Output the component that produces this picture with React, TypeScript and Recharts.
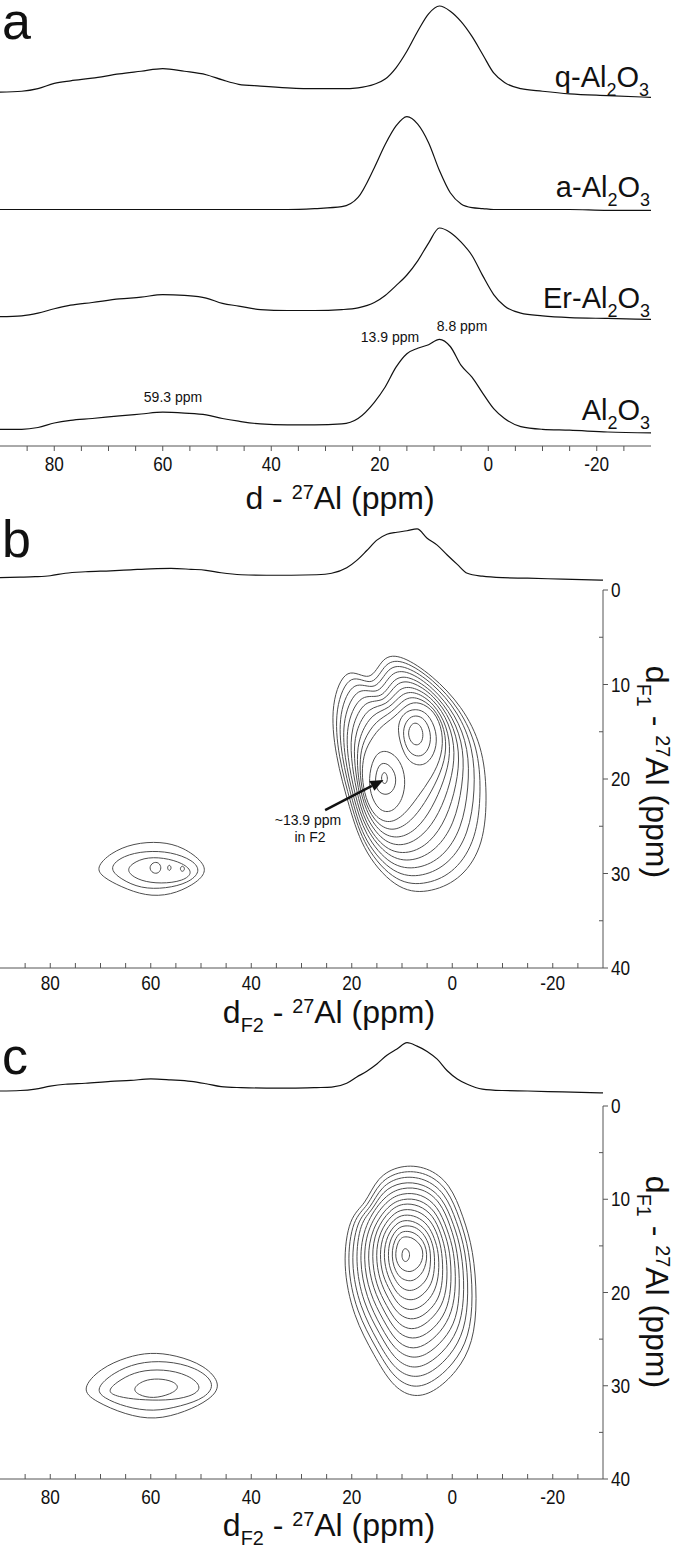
import React from 'react';
import { LineChart, Line, XAxis, YAxis, ReferenceLine } from 'recharts';

// shared chemical-shift grid for the 1D traces (ppm)
const ppm = [90, 86, 83, 80, 77, 73, 68, 64, 60, 56, 52, 49, 46, 42, 37, 32, 27, 24, 21, 19, 17, 15, 13, 11, 9, 7, 5, 3, 1, -1, -3, -6, -10, -15, -22, -30];

// panel a, relative intensity (peak = 100)
const qAl2O3 = [1, 2, 5, 11, 14, 17, 22, 25, 28, 25, 21, 15, 10, 8, 6, 5, 5, 6, 10, 16, 29, 48, 71, 91, 100, 94, 82, 65, 44, 23, 12, 5, 2, -1, -3, -5];
const aAl2O3 = [0, 0, 0, 0, 0, 0, 0, 0, 0, 0, 0, 0, 0, 0, 0, 1, 3, 13, 45, 70, 90, 100, 92, 72, 42, 18, 6, 2, 1, 0, 0, 0, 0, 0, -1, -1];
const erAl2O3 = [0, 1, 4, 9, 13, 16, 20, 22, 25, 24, 21, 15, 12, 8, 7, 7, 8, 10, 16, 24, 35, 47, 63, 83, 100, 95, 84, 69, 46, 25, 12, 4, 1, -1, -2, -3];
const al2O3 = [0, 0, 2, 7, 10, 12, 15, 17, 19, 18, 16, 12, 9, 6, 5, 5, 6, 12, 30, 47, 69, 84, 90, 94, 100, 92, 71, 58, 40, 23, 12, 3, 0, -1, -3, -4];

// F2 projections above panels b and c
const projB = [0, 1, 2, 4, 9, 12, 14, 16, 18, 19, 17, 15, 10, 6, 5, 5, 6, 9, 20, 35, 55, 76, 88, 92, 95, 99, 80, 66, 46, 27, 9, 3, 0, -1, -3, -5];
const projC = [0, 1, 4, 10, 14, 16, 20, 22, 25, 23, 20, 15, 9, 7, 6, 6, 7, 8, 16, 29, 41, 56, 74, 87, 100, 93, 82, 66, 42, 25, 14, 4, 1, 0, -2, -4];

const xTicksMajor = [80, 60, 40, 20, 0, -20];
const xTicksMinor = [85, 75, 70, 65, 55, 50, 45, 35, 30, 25, 15, 10, 5, -5, -10, -15, -25];
const yTicksMajor = [0, 10, 20, 30, 40];
const yTicksMinor = [5, 15, 25, 35];

// contour rings, [F2, F1] in ppm — panel b
const contoursB: number[][][] = [
  [[24.3, 12.0], [21.0, 7.8], [16.2, 10.0], [13.9, 6.9], [10.0, 6.9], [4.0, 9.0], [-2.0, 12.3], [-6.0, 16.5], [-7.0, 21.5], [-6.3, 27.0], [-2.0, 30.5], [4.0, 32.0], [10.5, 32.0], [17.5, 28.0], [20.5, 23.0], [23.3, 17.5]],
  [[23.5, 12.5], [20.3, 8.5], [15.7, 10.5], [13.4, 7.5], [9.6, 7.4], [3.9, 9.4], [-1.6, 12.6], [-5.1, 16.6], [-5.8, 21.3], [-4.8, 26.4], [-0.7, 29.8], [4.9, 31.2], [11.1, 31.1], [17.5, 27.3], [20.2, 22.6], [22.7, 17.6]],
  [[22.7, 13.0], [19.6, 9.3], [15.2, 10.9], [12.8, 8.0], [9.2, 8.0], [3.9, 9.8], [-1.2, 12.9], [-4.2, 16.7], [-4.6, 21.1], [-3.3, 25.9], [0.6, 29.0], [5.9, 30.4], [11.6, 30.2], [17.5, 26.7], [19.9, 22.3], [22.1, 17.6]],
  [[21.9, 13.5], [18.8, 10.0], [14.6, 11.3], [12.3, 8.6], [8.8, 8.5], [3.8, 10.3], [-0.7, 13.2], [-3.3, 16.8], [-3.3, 20.9], [-1.9, 25.3], [1.8, 28.3], [6.8, 29.6], [12.2, 29.3], [17.4, 26.0], [19.7, 21.9], [21.5, 17.7]],
  [[21.1, 14.0], [18.1, 10.8], [14.0, 11.7], [11.7, 9.2], [8.4, 9.1], [3.8, 10.7], [-0.3, 13.5], [-2.4, 16.9], [-2.1, 20.7], [-0.4, 24.8], [3.1, 27.5], [7.8, 28.8], [12.7, 28.4], [17.4, 25.3], [19.4, 21.6], [20.9, 17.7]],
  [[20.2, 14.5], [17.4, 11.5], [13.5, 12.0], [11.2, 9.7], [8.1, 9.6], [3.7, 11.1], [0.1, 13.8], [-1.6, 17.1], [-0.9, 20.6], [1.1, 24.2], [4.4, 26.8], [8.7, 28.0], [13.3, 27.6], [17.4, 24.7], [19.1, 21.2], [20.2, 17.8]],
  [[19.4, 15.0], [16.7, 12.3], [13.0, 12.3], [10.6, 10.3], [7.7, 10.2], [3.7, 11.5], [0.5, 14.1], [-0.7, 17.2], [0.3, 20.4], [2.6, 23.7], [5.7, 26.0], [9.7, 27.2], [13.8, 26.7], [17.4, 24.0], [18.8, 20.9], [19.6, 17.8]],
  [[18.6, 15.5], [15.9, 13.0], [12.5, 12.6], [10.1, 10.9], [7.3, 10.7], [3.6, 12.0], [1.0, 14.4], [0.2, 17.3], [1.6, 20.2], [4.0, 23.1], [6.9, 25.3], [10.6, 26.4], [14.4, 25.8], [17.3, 23.3], [18.6, 20.5], [19.0, 17.9]],
  [[17.8, 16.0], [15.2, 13.8], [12.0, 13.0], [9.5, 11.4], [6.9, 11.3], [3.6, 12.4], [1.4, 14.7], [1.1, 17.4], [2.8, 20.0], [5.5, 22.6], [8.2, 24.5], [11.6, 25.6], [14.9, 24.9], [17.3, 22.7], [18.3, 20.2], [18.4, 17.9]],
  [[17.0, 16.5], [14.5, 14.5], [11.5, 13.5], [9.0, 12.0], [6.5, 11.8], [3.5, 12.8], [1.8, 15.0], [2.0, 17.5], [4.0, 19.8], [7.0, 22.0], [9.5, 23.8], [12.5, 24.8], [15.5, 24.0], [17.3, 22.0], [18.0, 19.8], [17.8, 18.0]],
  [[11.2, 14.6], [9.8, 13.0], [7.4, 12.5], [4.8, 13.0], [3.0, 15.0], [3.2, 17.0], [5.0, 18.5], [7.5, 18.6], [9.6, 17.6]],
  [[10.0, 14.9], [8.9, 13.6], [7.3, 13.2], [5.4, 13.6], [4.2, 15.1], [4.4, 16.6], [5.8, 17.6], [7.6, 17.6], [9.2, 16.8]],
  [[8.9, 15.1], [8.2, 14.2], [7.2, 14.0], [6.2, 14.4], [5.7, 15.3], [6.1, 16.2], [7.2, 16.5], [8.3, 16.1]],
  [[16.6, 19.4], [15.3, 17.2], [12.8, 16.9], [10.3, 18.0], [9.2, 20.0], [9.8, 22.2], [12.0, 23.6], [14.6, 23.4], [16.4, 21.6]],
  [[15.3, 19.6], [14.5, 18.3], [12.8, 18.3], [11.2, 19.4], [11.2, 20.8], [12.5, 21.7], [14.3, 21.6], [15.3, 20.8]],
  [[14.2, 19.9], [13.8, 19.3], [13.2, 19.3], [12.8, 19.9], [13.1, 20.5], [13.8, 20.5]],
  [[71.0, 29.4], [68.0, 27.8], [63.5, 26.8], [58.0, 26.6], [53.5, 27.2], [49.5, 28.8], [49.0, 30.0], [51.5, 31.2], [56.0, 32.3], [61.0, 32.4], [66.0, 31.4], [69.5, 30.4]],
  [[68.5, 29.4], [65.5, 28.1], [61.0, 27.6], [56.0, 27.7], [51.5, 28.6], [50.0, 29.8], [52.5, 31.0], [57.0, 31.6], [62.0, 31.6], [66.0, 30.6]],
  [[64.5, 29.2], [61.5, 28.3], [57.5, 28.3], [53.5, 28.9], [51.5, 29.9], [53.5, 30.8], [58.0, 31.1], [62.0, 30.8], [64.5, 30.0]],
  [[60.4, 29.4], [59.6, 28.8], [58.4, 28.8], [57.8, 29.4], [58.4, 30.0], [59.6, 30.0]],
  [[56.8, 29.4], [56.3, 29.0], [55.8, 29.4], [56.3, 29.8]],
  [[54.3, 29.5], [53.7, 29.1], [53.1, 29.5], [53.7, 29.9]],
];

// contour rings, [F2, F1] in ppm — panel c
const contoursC: number[][][] = [
  [[10.3, 6.3], [5.0, 6.5], [0.4, 8.3], [-2.2, 11.9], [-4.2, 15.4], [-5.0, 20.8], [-4.2, 25.4], [-1.0, 28.5], [3.8, 30.8], [8.0, 31.3], [12.0, 30.0], [15.5, 26.8], [19.7, 22.6], [21.9, 17.0], [20.5, 11.8], [17.3, 10.6], [15.0, 7.6]],
  [[10.2, 6.9], [5.2, 7.1], [0.9, 8.8], [-1.6, 12.2], [-3.4, 15.4], [-4.2, 20.5], [-3.4, 24.8], [-0.3, 27.7], [4.2, 29.8], [8.1, 30.3], [11.9, 29.0], [15.1, 26.0], [19.1, 22.1], [21.1, 16.9], [19.8, 12.0], [16.8, 10.8], [14.6, 8.1]],
  [[10.2, 7.5], [5.5, 7.7], [1.4, 9.3], [-0.9, 12.4], [-2.7, 15.5], [-3.3, 20.2], [-2.5, 24.1], [0.3, 26.8], [4.5, 28.8], [8.2, 29.2], [11.7, 28.1], [14.8, 25.3], [18.4, 21.6], [20.3, 16.8], [19.0, 12.2], [16.3, 11.0], [14.2, 8.6]],
  [[10.1, 8.1], [5.7, 8.3], [1.9, 9.8], [-0.3, 12.7], [-1.9, 15.5], [-2.5, 19.8], [-1.7, 23.5], [1.0, 26.0], [4.9, 27.8], [8.3, 28.2], [11.6, 27.1], [14.4, 24.5], [17.8, 21.1], [19.4, 16.6], [18.3, 12.4], [15.9, 11.2], [13.9, 9.1]],
  [[10.0, 8.7], [5.9, 8.8], [2.4, 10.2], [0.3, 12.9], [-1.1, 15.6], [-1.6, 19.5], [-0.9, 22.9], [1.6, 25.1], [5.2, 26.8], [8.4, 27.1], [11.5, 26.1], [14.1, 23.8], [17.1, 20.6], [18.6, 16.5], [17.5, 12.7], [13.5, 9.6]],
  [[9.9, 9.3], [6.2, 9.4], [2.9, 10.7], [1.0, 13.2], [-0.4, 15.6], [-0.8, 19.2], [0.0, 22.2], [2.3, 24.3], [5.6, 25.8], [8.5, 26.1], [11.3, 25.2], [13.7, 23.0], [16.5, 20.1], [17.8, 16.4], [16.8, 12.9], [13.1, 10.1]],
  [[9.8, 9.9], [6.4, 10.0], [3.4, 11.2], [1.6, 13.4], [0.4, 15.6], [0.1, 18.9], [0.8, 21.6], [2.9, 23.5], [5.9, 24.8], [8.6, 25.0], [11.2, 24.2], [13.4, 22.2], [15.8, 19.6], [17.0, 16.3], [16.0, 13.1], [12.7, 10.6]],
  [[9.8, 10.4], [6.6, 10.6], [3.8, 11.7], [2.2, 13.7], [1.2, 15.7], [0.9, 18.5], [1.6, 21.0], [3.6, 22.6], [6.3, 23.8], [8.8, 24.0], [11.1, 23.2], [13.0, 21.5], [15.2, 19.2], [16.1, 16.1], [15.3, 13.3], [12.4, 11.1]],
  [[9.7, 11.0], [6.8, 11.2], [4.3, 12.2], [2.8, 13.9], [2.0, 15.7], [1.8, 18.2], [2.4, 20.4], [4.2, 21.8], [6.6, 22.8], [8.9, 22.9], [11.0, 22.2], [12.7, 20.7], [14.5, 18.7], [15.3, 16.0], [14.5, 13.5], [12.0, 11.6]],
  [[9.6, 11.6], [7.1, 11.8], [4.8, 12.7], [3.5, 14.2], [2.7, 15.7], [2.6, 17.9], [3.3, 19.7], [4.9, 21.0], [7.0, 21.8], [9.0, 21.9], [10.8, 21.3], [12.3, 19.9], [13.9, 18.2], [14.5, 15.9], [13.8, 13.7], [11.6, 12.1]],
  [[9.5, 12.2], [7.3, 12.4], [5.3, 13.2], [4.1, 14.4], [3.5, 15.8], [3.5, 17.6], [4.1, 19.1], [5.5, 20.1], [7.3, 20.8], [9.1, 20.8], [10.7, 20.3], [12.0, 19.2], [13.2, 17.7], [13.7, 15.8], [13.0, 13.9], [11.2, 12.6]],
  [[9.5, 12.8], [7.5, 12.9], [5.8, 13.6], [4.7, 14.7], [4.3, 15.8], [4.3, 17.2], [4.9, 18.5], [6.2, 19.3], [7.7, 19.8], [9.2, 19.8], [10.6, 19.3], [11.6, 18.4], [12.6, 17.2], [12.8, 15.6], [12.3, 14.2], [10.9, 13.1]],
  [[9.4, 13.4], [7.8, 13.5], [6.3, 14.1], [5.4, 14.9], [5.0, 15.9], [5.2, 16.9], [5.8, 17.8], [6.8, 18.4], [8.0, 18.8], [9.3, 18.7], [10.4, 18.4], [11.3, 17.7], [11.9, 16.7], [12.0, 15.5], [11.5, 14.4], [10.5, 13.6]],
  [[9.3, 14.0], [8.0, 14.1], [6.8, 14.6], [6.0, 15.2], [5.8, 15.9], [6.0, 16.6], [6.6, 17.2], [7.5, 17.6], [8.4, 17.8], [9.4, 17.7], [10.3, 17.4], [10.9, 16.9], [11.3, 16.2], [11.2, 15.4], [10.8, 14.6], [10.1, 14.1]],
  [[9.4, 15.2], [8.6, 15.5], [8.4, 16.1], [8.9, 16.7], [9.7, 16.7], [10.1, 16.1], [9.9, 15.5]],
  [[74.0, 30.4], [70.0, 28.1], [64.7, 26.9], [60.1, 26.4], [55.1, 26.7], [49.2, 27.8], [45.8, 29.9], [48.2, 31.5], [53.1, 32.8], [59.1, 33.7], [65.1, 33.1], [71.0, 31.7]],
  [[71.0, 30.3], [67.5, 28.6], [62.7, 27.5], [57.0, 27.3], [51.0, 28.0], [47.0, 29.7], [49.0, 31.3], [54.0, 32.2], [59.5, 32.8], [65.0, 32.3], [69.5, 31.3]],
  [[69.0, 30.6], [66.0, 29.3], [62.5, 28.4], [57.5, 28.2], [52.5, 28.8], [49.5, 30.2], [52.0, 31.2], [57.0, 31.6], [62.5, 31.5], [66.5, 31.2]],
  [[63.7, 30.3], [61.5, 29.4], [58.5, 29.2], [55.5, 29.5], [54.2, 30.2], [56.0, 30.9], [59.5, 31.4], [62.5, 31.0]],
];

// arrow in panel b: tail -> head, [F2, F1]
const arrowB = [[25.3, 23.3], [13.7, 20.1]];

const W = 675;
const SANS = '"Liberation Sans", Arial, sans-serif';
const INK = '#111';
const AXIS = '#555';
const RING = '#4d4d4d';

// y-domain that puts 0 at y0 and 100 at y100 inside a plot spanning top..bottom
const band = (y0: number, y100: number, top: number, bottom: number): [number, number] => {
  const s = (y0 - y100) / 100;
  return [-(bottom - y0) / s, (y0 - top) / s];
};

const xTicksAll = [...xTicksMajor, ...xTicksMinor].sort((a, b) => b - a);
const yTicksAll = [...yTicksMajor, ...yTicksMinor].sort((a, b) => a - b);

// narrow-looking tick text (condensed horizontally)
const TickText = ({ x, y, anchor, children }: { x: number; y: number; anchor: 'start' | 'middle'; children: React.ReactNode }) => (
  <text transform={`translate(${x} ${y}) scale(0.86 1)`} textAnchor={anchor} fontSize={20} fontFamily={SANS} fill={INK}>
    {children}
  </text>
);

const makeXTick = (up: boolean, labelDy: number) => (props: any) => {
  const { x, y, payload } = props;
  const v = payload.value;
  const major = xTicksMajor.includes(v);
  return (
    <g>
      <line x1={x} x2={x} y1={y} y2={up ? y - 5 : y + 5} stroke={AXIS} />
      {major && (
        <TickText x={x} y={y + labelDy} anchor="middle">
          {v}
        </TickText>
      )}
    </g>
  );
};

const YTick = (props: any) => {
  const { x, y, payload } = props;
  const v = payload.value;
  const major = yTicksMajor.includes(v);
  return (
    <g>
      <line x1={x} x2={major ? x + 5 : x - 4} y1={y} y2={y} stroke={AXIS} />
      {major && (
        <TickText x={x + 8} y={y + 7} anchor="start">
          {v}
        </TickText>
      )}
    </g>
  );
};

const Arrow = (p: any) => {
  const { x1, y1, x2, y2 } = p;
  const ang = Math.atan2(y2 - y1, x2 - x1);
  const L = 13;
  const hw = 5.5;
  const bx = x2 - L * Math.cos(ang);
  const by = y2 - L * Math.sin(ang);
  const px = -Math.sin(ang) * hw;
  const py = Math.cos(ang) * hw;
  return (
    <g>
      <line x1={x1} y1={y1} x2={bx} y2={by} stroke={INK} strokeWidth={2.4} />
      <polygon points={`${x2},${y2} ${bx + px},${by + py} ${bx - px},${by - py}`} fill={INK} />
    </g>
  );
};

const Sub = ({ children }: { children: React.ReactNode }) => (
  <span style={{ fontSize: '0.62em', position: 'relative', top: '0.45em' }}>{children}</span>
);
const Sup = ({ children }: { children: React.ReactNode }) => (
  <span style={{ fontSize: '0.62em', position: 'relative', top: '-0.5em' }}>{children}</span>
);

type TxtProps = { x: number; y: number; size: number; align?: 'left' | 'center' | 'right'; lh?: number; children: React.ReactNode };
// y is the text baseline
const Txt = ({ x, y, size, align = 'left', lh = 1, children }: TxtProps) => {
  const style: React.CSSProperties = {
    position: 'absolute',
    top: y - ((lh - 1.117) / 2 + 0.905) * size,
    fontSize: size,
    lineHeight: lh,
    fontFamily: SANS,
    whiteSpace: 'nowrap',
    color: INK,
  };
  if (align === 'right') style.right = W - x;
  else if (align === 'center') {
    style.left = x;
    style.transform = 'translateX(-50%)';
  } else style.left = x;
  return <div style={style}>{children}</div>;
};

const YTitle = ({ cx, cy }: { cx: number; cy: number }) => (
  <div
    style={{
      position: 'absolute',
      left: cx,
      top: cy,
      transform: 'translate(-50%, -50%) rotate(90deg)',
      fontSize: 32,
      lineHeight: 0.9,
      fontFamily: SANS,
      whiteSpace: 'nowrap',
      color: INK,
    }}
  >
    d<Sub>F1</Sub> - <Sup>27</Sup>Al (ppm)
  </div>
);

const rowsA = ppm.map((p, i) => ({ ppm: p, q: qAl2O3[i], a: aAl2O3[i], er: erAl2O3[i], al: al2O3[i] }));

const PanelA = () => {
  const h = 486;
  const plotBottom = 446;
  const series = [
    { key: 'q', y0: 93, y100: 6 },
    { key: 'a', y0: 209.5, y100: 116.7 },
    { key: 'er', y0: 316.7, y100: 228 },
    { key: 'al', y0: 429.3, y100: 339.3 },
  ];
  return (
    <div style={{ position: 'absolute', left: 0, top: 0 }}>
      <LineChart width={W} height={h} data={rowsA} margin={{ top: 0, right: 24, bottom: 0, left: 0 }}>
        <XAxis
          dataKey="ppm"
          type="number"
          domain={[-30, 90]}
          reversed
          allowDataOverflow
          ticks={xTicksAll}
          interval={0}
          tickSize={0}
          tickMargin={0}
          tickLine={false}
          tick={makeXTick(false, 25)}
          height={h - plotBottom}
          axisLine={{ stroke: AXIS }}
        />
        {series.map((s) => (
          <YAxis key={s.key} yAxisId={s.key} type="number" hide allowDataOverflow domain={band(s.y0, s.y100, 0, plotBottom)} />
        ))}
        {series.map((s) => (
          <Line
            key={s.key}
            yAxisId={s.key}
            dataKey={s.key}
            type="monotone"
            stroke={INK}
            strokeWidth={1.2}
            dot={false}
            activeDot={false}
            isAnimationActive={false}
          />
        ))}
      </LineChart>
    </div>
  );
};

const Projection = ({ top, values, baseY, peakY }: { top: number; values: number[]; baseY: number; peakY: number }) => {
  const h = 85;
  const rows = ppm.map((p, i) => ({ ppm: p, v: values[i] }));
  return (
    <div style={{ position: 'absolute', left: 0, top }}>
      <LineChart width={W} height={h} data={rows} margin={{ top: 0, right: 72, bottom: 0, left: 0 }}>
        <XAxis dataKey="ppm" type="number" domain={[-30, 90]} reversed allowDataOverflow hide />
        <YAxis type="number" hide allowDataOverflow domain={band(baseY - top, peakY - top, 0, h)} />
        <Line dataKey="v" type="monotone" stroke={INK} strokeWidth={1.2} dot={false} activeDot={false} isAnimationActive={false} />
      </LineChart>
    </div>
  );
};

const ContourPanel = ({ top, plotH, rings, labelDy, arrow }: { top: number; plotH: number; rings: number[][][]; labelDy: number; arrow?: number[][] }) => {
  const axisH = 42;
  const h = 10 + plotH + axisH;
  return (
    <div style={{ position: 'absolute', left: 0, top }}>
      <LineChart width={W} height={h} margin={{ top: 10, right: 0, bottom: 0, left: 0 }}>
        <XAxis
          dataKey="f2"
          type="number"
          domain={[-30, 90]}
          reversed
          allowDataOverflow
          ticks={xTicksAll}
          interval={0}
          tickSize={0}
          tickMargin={0}
          tickLine={false}
          tick={makeXTick(true, labelDy)}
          height={axisH}
          axisLine={{ stroke: AXIS }}
        />
        <YAxis
          orientation="right"
          type="number"
          domain={[0, 40]}
          reversed
          allowDataOverflow
          ticks={yTicksAll}
          interval={0}
          tickSize={0}
          tickMargin={0}
          tickLine={false}
          tick={YTick}
          width={72}
          axisLine={{ stroke: AXIS }}
        />
        {rings.map((r, i) => (
          <Line
            key={i}
            data={r.map(([f2, f1]) => ({ f2, f1 }))}
            dataKey="f1"
            type="basisClosed"
            stroke={RING}
            strokeWidth={1}
            dot={false}
            activeDot={false}
            isAnimationActive={false}
          />
        ))}
        {arrow && (
          <ReferenceLine
            segment={[
              { x: arrow[0][0], y: arrow[0][1] },
              { x: arrow[1][0], y: arrow[1][1] },
            ]}
            ifOverflow="visible"
            shape={Arrow}
          />
        )}
      </LineChart>
    </div>
  );
};

export default function App() {
  return (
    <div
      style={{
        position: 'absolute',
        left: 0,
        top: 0,
        width: W,
        height: 1549,
        background: '#fff',
        overflow: 'hidden',
        fontFamily: SANS,
      }}
    >
      <PanelA />
      <Projection top={505} values={projB} baseY={577.7} peakY={528.3} />
      <ContourPanel top={580} plotH={378} rings={contoursB} labelDy={22} arrow={arrowB} />
      <Projection top={1020} values={projC} baseY={1091} peakY={1042.7} />
      <ContourPanel top={1096} plotH={373} rings={contoursC} labelDy={25} />

      <Txt x={2} y={39} size={52} lh={0.7}>a</Txt>
      <Txt x={2} y={558} size={52} lh={0.75}>b</Txt>
      <Txt x={2} y={1075} size={52} lh={0.75}>c</Txt>

      <Txt x={649} y={88} size={29} align="right">q-Al<Sub>2</Sub>O<Sub>3</Sub></Txt>
      <Txt x={650} y={198} size={29} align="right">a-Al<Sub>2</Sub>O<Sub>3</Sub></Txt>
      <Txt x={650} y={309} size={29} align="right">Er-Al<Sub>2</Sub>O<Sub>3</Sub></Txt>
      <Txt x={650} y={421} size={29} align="right">Al<Sub>2</Sub>O<Sub>3</Sub></Txt>

      <Txt x={462} y={331} size={14} align="center">8.8 ppm</Txt>
      <Txt x={390} y={342} size={14} align="center">13.9 ppm</Txt>
      <Txt x={173} y={402} size={14} align="center">59.3 ppm</Txt>

      <Txt x={340} y={509} size={32} align="center" lh={0.9}>d - <Sup>27</Sup>Al (ppm)</Txt>

      <Txt x={308} y={825} size={14} align="center">~13.9 ppm</Txt>
      <Txt x={310} y={842} size={14} align="center">in F2</Txt>

      <Txt x={329} y={1024} size={32} align="center" lh={0.85}>d<Sub>F2</Sub> - <Sup>27</Sup>Al (ppm)</Txt>
      <Txt x={329} y={1537} size={32} align="center" lh={0.85}>d<Sub>F2</Sub> - <Sup>27</Sup>Al (ppm)</Txt>

      <YTitle cx={657} cy={772} />
      <YTitle cx={657} cy={1282} />
    </div>
  );
}
